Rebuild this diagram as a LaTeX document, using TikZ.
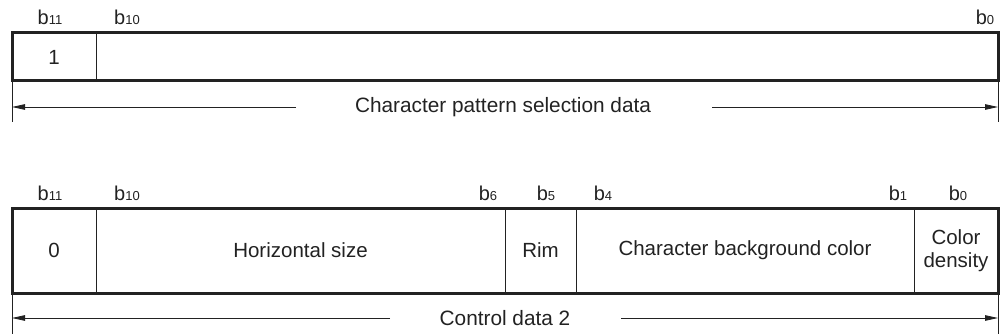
\documentclass[tikz,border=0pt]{standalone}
\usepackage{fontspec}
\setmainfont{Liberation Sans}
\usetikzlibrary{arrows.meta}
\definecolor{ink}{HTML}{222222}
\newcommand{\bitsub}[1]{{\fontsize{13}{13}\selectfont #1}}
\begin{document}
\begin{tikzpicture}[x=1pt,y=-1pt,
  every node/.style={text=ink},
  cellbox/.style={draw=ink, line width=0.9pt, inner sep=0pt, outer sep=0pt,
    font=\fontsize{20.5}{23}\selectfont, align=center},
  framebox/.style={draw=ink, line width=3pt},
  bitlab/.style={font=\fontsize{20}{20}\selectfont, inner sep=0pt, anchor=base},
  dimtxt/.style={font=\fontsize{20.8}{24}\selectfont, inner sep=0pt},
  dimarrow/.style={draw=ink, line width=0.8pt, -{Triangle[length=13pt,width=5.5pt]}},
  extline/.style={draw=ink, line width=0.8pt}
]
\useasboundingbox (0,0) rectangle (1000,334);

% ---------- top register ----------
\node[bitlab] (tb11) at (50,25) {b\bitsub{11}};
\node[bitlab] (tb10) at (127,25) {b\bitsub{10}};
\node[bitlab] (tb0) at (985,25) {b\bitsub{0}};

\node[cellbox, minimum width=84pt, minimum height=48pt] (t1) at (54,57) {1};
\node[cellbox, minimum width=902pt, minimum height=48pt] (t2) at (547,57) {};
\draw[framebox] (t1.north west) rectangle (t2.south east);

\coordinate (tl) at (12,122);
\coordinate (tr) at (998,122);
\draw[extline] (t1.south west) -- (tl);
\draw[extline] (t2.south east) -- (tr);

\node[dimtxt] (tlab) at (503,107) {Character pattern selection data};
\coordinate (tal) at (296,107);
\coordinate (tar) at (712,107);
\draw[dimarrow] (tal) -- (t1.south west |- tal);
\draw[dimarrow] (tar) -- (t2.south east |- tar);

% ---------- bottom register ----------
\node[bitlab] (bb11) at (50,200) {b\bitsub{11}};
\node[bitlab] (bb10) at (127,200) {b\bitsub{10}};
\node[bitlab] (bb6) at (488,200) {b\bitsub{6}};
\node[bitlab] (bb5) at (546,200) {b\bitsub{5}};
\node[bitlab] (bb4) at (603,200) {b\bitsub{4}};
\node[bitlab] (bb1) at (898,200) {b\bitsub{1}};
\node[bitlab] (bb0) at (958,200) {b\bitsub{0}};

\node[cellbox, minimum width=84pt, minimum height=85pt] (c1) at (54,250.5) {0};
\node[cellbox, minimum width=409pt, minimum height=85pt] (c2) at (300.5,250.5) {Horizontal size};
\node[cellbox, minimum width=71pt, minimum height=85pt] (c3) at (540.5,250.5) {Rim};
\node[cellbox, minimum width=338pt, minimum height=85pt] (c4) at (745,250.5) {Character background color};
\node[cellbox, minimum width=84pt, minimum height=85pt] (c5) at (956,250.5) {Color\\density};
\draw[framebox] (c1.north west) rectangle (c5.south east);

\coordinate (bl) at (12,334);
\coordinate (br) at (998,334);
\draw[extline] (c1.south west) -- (bl);
\draw[extline] (c5.south east) -- (br);

\node[dimtxt] (blab) at (505,318) {Control data 2};
\coordinate (bal) at (390,318);
\coordinate (bar) at (621,318);
\draw[dimarrow] (bal) -- (c1.south west |- bal);
\draw[dimarrow] (bar) -- (c5.south east |- bar);
\end{tikzpicture}
\end{document}
